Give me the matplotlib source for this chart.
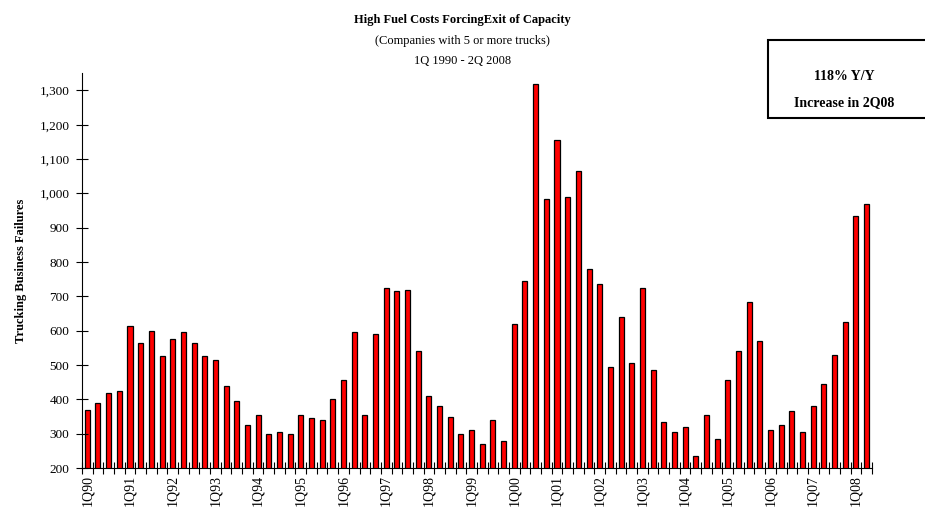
#!/usr/bin/env python3
import numpy as np
import matplotlib.pyplot as plt
from matplotlib.patches import Rectangle

plt.rcParams['font.family'] = ['Liberation Serif', 'DejaVu Serif']

years = ['90', '91', '92', '93', '94', '95', '96', '97', '98',
         '99', '00', '01', '02', '03', '04', '05', '06', '07', '08']
failures = [370, 390, 420, 425,
            615, 565, 600, 525,
            575, 595, 565, 525,
            515, 440, 395, 325,
            355, 300, 305, 300,
            355, 345, 340, 400,
            455, 595, 355, 590,
            725, 715, 720, 540,
            410, 380, 350, 300,
            310, 270, 340, 280,
            620, 745, 1320, 985,
            1155, 990, 1065, 780,
            735, 495, 640, 505,
            725, 485, 335, 305,
            320, 235, 355, 285,
            455, 540, 685, 570,
            310, 325, 365, 305,
            380, 445, 530, 625,
            935, 970]
tick_labels = ['1Q' + y for y in years]

fig = plt.figure(figsize=(9.25, 5.12), dpi=100)
ax = fig.add_axes([0.0886, 0.0859, 0.854, 0.771])

x = np.arange(len(failures))
ax.bar(x, failures, width=0.47, color='#ff0000', edgecolor='black', linewidth=0.9)

ax.set_xlim(-0.5, len(failures) - 0.5)
ax.set_ylim(200, 1350)
ax.set_yticks(range(200, 1301, 100))
ax.set_yticklabels([f'{v:,}' for v in range(200, 1301, 100)], fontsize=9.5)
ax.tick_params(axis='y', direction='inout', length=8, width=0.8, pad=5)

ax.set_xticks(x[::4])
ax.set_xticklabels(tick_labels, rotation=90, fontsize=10)
ax.set_xticks(np.arange(-0.5, len(failures), 1), minor=True)
ax.tick_params(axis='x', which='major', length=0, pad=5)
ax.tick_params(axis='x', which='minor', direction='inout', length=8, width=0.8)

for s in ['top', 'right']:
    ax.spines[s].set_visible(False)
ax.spines['left'].set_linewidth(0.8)
ax.spines['bottom'].set_linewidth(0.8)

ax.set_ylabel('Trucking Business Failures', fontsize=9, fontweight='bold', labelpad=9)

fig.text(0.5, 0.960, 'High Fuel Costs ForcingExit of Capacity', ha='center', va='center',
         fontsize=9, fontweight='bold')
fig.text(0.5, 0.920, '(Companies with 5 or more trucks)', ha='center', va='center', fontsize=9)
fig.text(0.5, 0.881, '1Q 1990 - 2Q 2008', ha='center', va='center', fontsize=9)

fig.patches.append(Rectangle((0.830, 0.770), 0.2, 0.152, transform=fig.transFigure,
                             facecolor='white', edgecolor='black', linewidth=1.5))
fig.text(0.913, 0.851, '118% Y/Y', ha='center', va='center', fontsize=10, fontweight='bold')
fig.text(0.913, 0.800, 'Increase in 2Q08', ha='center', va='center', fontsize=10, fontweight='bold')

fig.savefig('out.png', dpi=100)
